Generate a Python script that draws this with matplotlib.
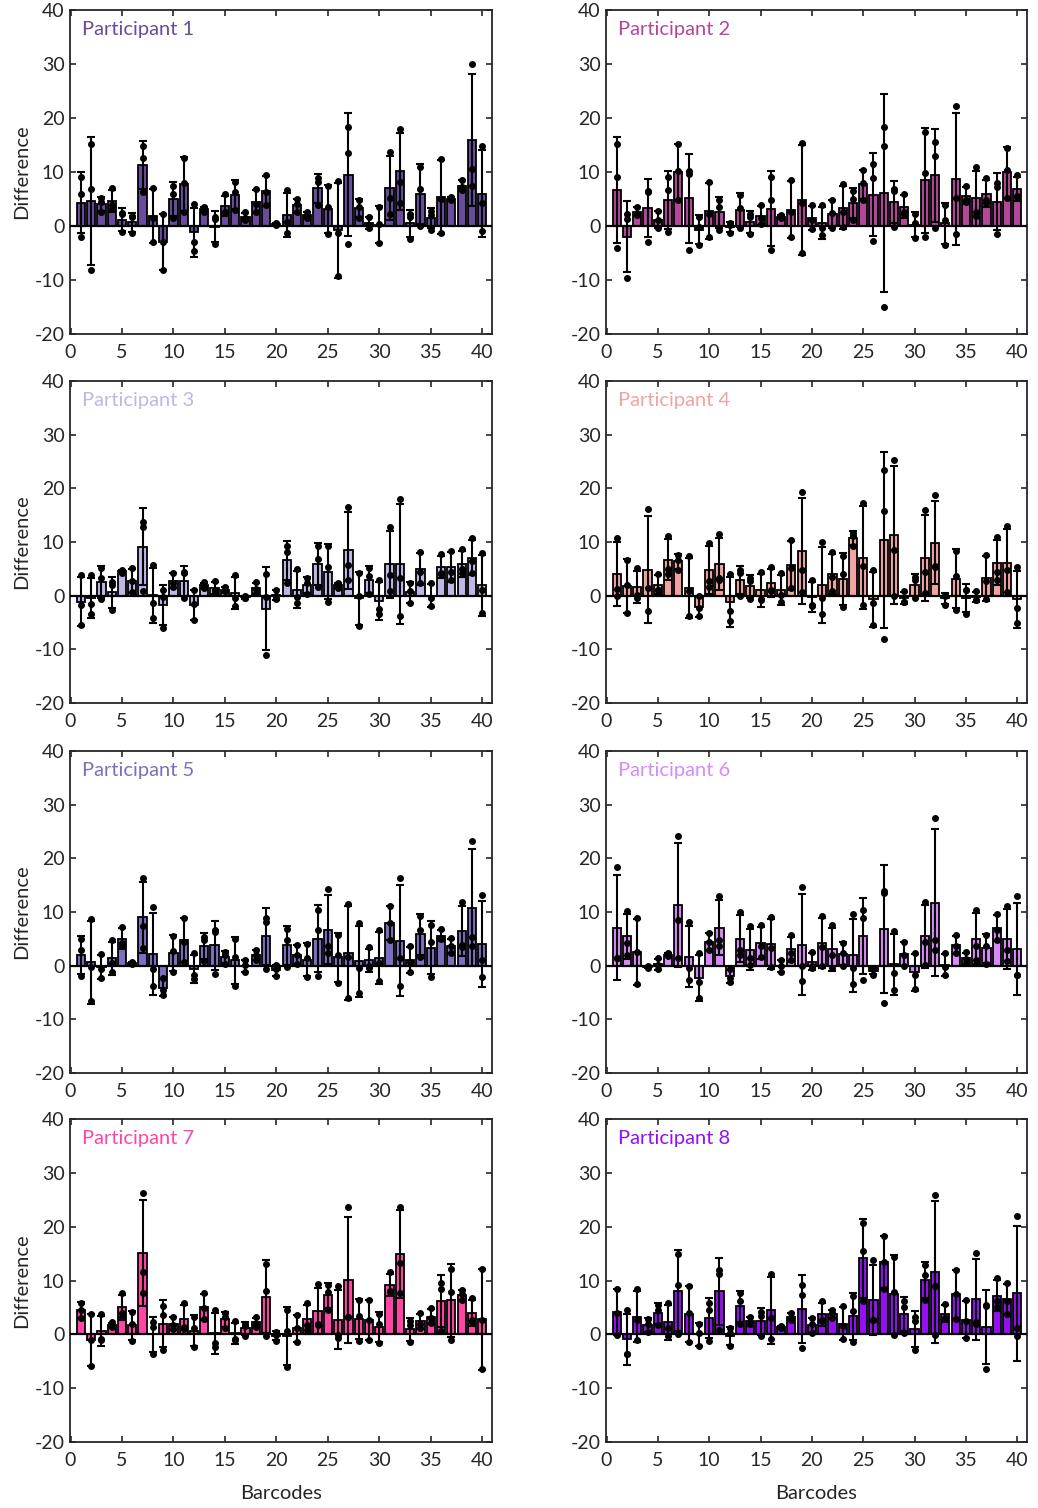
import numpy as np
import matplotlib
matplotlib.use("Agg")
import matplotlib.pyplot as plt

plt.rcParams["font.family"] = ["Lato", "DejaVu Sans"]
plt.rcParams["axes.unicode_minus"] = False

# three replicate differences per barcode (barcodes 1..40)
p1_points = [(9, 6, -2), (15.2, 6.9, -8.1), (5.2, 4.4, 2.6), (7, 3.9, 3.2), (2.5, 2.3, -1.2),
             (1.8, 1.7, -1.3), (14.9, 12.6, 6.3), (7.1, 1.5, -2.9), (2.3, -2.9, -8.1), (7.5, 6, 1.4),
             (12.6, 7.9, 2.6), (4, -2.9, -4.7), (3.5, 3.2, 2.6), (1.7, 1.3, -3.4), (5.9, 2.6, 2.6),
             (8.2, 6.3, 2.9), (2.6, 1.4, 1.1), (6.8, 4.1, 2.6), (9.4, 6.3, 3.9), (0.6, 0.4, 0.2),
             (6.6, 0.7, -1.3), (5, 4, 2.6), (2.6, 1.9, 1.5), (8.8, 8.2, 3.9), (7.4, 3.6, -1.5),
             (8.3, -1.3, -9.3), (18.3, 13.6, -3.4), (4.8, 3.5, 1.5), (1.7, 0.2, -0.4), (3.6, 0.3, -3.2),
             (13.7, 5.1, 2.3), (17.9, 8.2, 4.2), (2.2, 1.7, -2.4), (10.9, 6.9, 0), (2.8, 2.1, -0.7),
             (12.5, 5, -1.3), (5.3, 5, 4.8), (8.6, 7.3, 6.6), (30, 10.5, 7.5), (14.8, 4.2, -1)]
p2_points = [(15.2, 9, -4.1), (2.3, 1.3, -9.6), (3.6, 2.3, 2.0), (6.3, 6.5, -2.9), (2.8, 1.2, -0.4),
             (9, 6.6, -1.2), (15.1, 10.2, 4.8), (9.6, 10.1, -4.4), (1.7, -0.2, -3.6), (8.2, 2.2, -2),
             (4.8, 3.6, -0.7), (0.5, 0.2, -1.3), (5.8, 3.3, -0.4), (2.3, 1.6, -1.5), (3.9, 1.4, 0.4),
             (9.1, 4.9, -4.4), (2, 1.7, 1.4), (8.5, 2.6, -2), (15.3, 4.2, -5), (3.9, 1.2, -0.6),
             (3.9, -0.4, -1.7), (4.8, 2.5, -0.4), (7.7, 2.6, -0.1), (6.5, 5.0, 1.1), (10.3, 8.0, 4.8),
             (11.5, 8.8, -2.8), (18.3, 14.9, -15), (6.9, 6.4, -0.1), (6, 2.6, 2.2), (2.3, 0.6, -2.3),
             (17.4, 9.9, -2), (15.6, 12.9, -0.4), (3.9, 1.2, -3.6), (22.3, 5.2, -1.5), (7.4, 4.9, 4.5),
             (10.9, 2.6, 1.8), (8.9, 4.9, 4.2), (7.9, 7.2, -1.5), (14.4, 10.3, 5.1), (9.4, 5.6, 5.4)]
p3_points = [(3.8, -1.7, -5.4), (3.8, -1.5, -3.5), (5.1, 3.3, -0.7), (2.5, 2.0, -2.7), (4.8, 4.5, 4.3),
             (5.1, 2.7, 0.6), (13.8, 12.8, 0.8), (5.8, -1.4, -4.1), (1.1, -0.2, -6), (4.3, 2.4, 1.7),
             (4.5, 4.3, -0.4), (1, -1.5, -4.6), (2.5, 1.7, 1.5), (2.7, 1.1, 0.5), (1.7, 0.8, 0.8),
             (3.8, -0.4, -2), (0, -0.4, -0.5), (2.5, 1.2, 0.5), (4.1, -0.3, -11), (1.1, 0, -0.7),
             (9.2, 8.2, 2.4), (5, -0.3, -1.4), (3.2, 2.4, 0.4), (9.2, 6.8, 1.7), (9.2, 5.4, -1.1),
             (2.4, 1.9, 1.4), (16.6, 5.8, 3), (4.2, 0, -5.6), (5.1, 3.6, 0.3), (3, -2.5, -3.5),
             (12.8, 3.9, 0.8), (18.1, 3.3, -3.8), (2.4, 0.8, -1.4), (8.2, 4.4, 2.4), (2.4, -0.5, -1.9),
             (7.7, 4.2, 4), (8.4, 4.5, 3), (8.7, 5, 4.2), (10.7, 6.4, 4.2), (8, 1.1, -3.3)]
p4_points = [(10.8, 1.2, 0), (6.7, 1.9, -3.3), (5.1, 0.1, -0.4), (16.1, 1.4, -2.9), (4.1, 1, 1),
             (11.1, 5, 4), (7.6, 6.7, 4.8), (7.3, 0.8, -3.8), (0, -2.3, -3.8), (9.9, 2.8, 1.7),
             (11.5, 3.3, 3), (4.1, -2.9, -4.8), (4.8, 4.2, 0), (3.3, 2.7, -0.7), (4.5, -0.6, -0.9),
             (5.4, 1, 0.8), (4.3, 0.1, -1.1), (10.4, 5.1, 1.4), (19.4, 4.8, 0.6), (3, -1.7, -1.9),
             (10, -0.4, -3.5), (8.1, 3.4, 0.8), (7.3, 4.1, -2.1), (11.7, 11.2, 9.2), (17.3, 5.6, -1.7),
             (4.8, -1.4, -5.4), (23.4, 15.7, -8.1), (25.3, 8.5, 0), (0.8, -1.1, -1.2), (3.5, 2.9, -0.4),
             (16, 4.5, 0.5), (18.8, 5.6, 5.3), (0.2, 0, -1.7), (8.4, 3.6, -2.6), (1, 1, -3.5),
             (0.8, -0.8, -0.9), (7.6, 2.7, -0.7), (11, 4.5, 3), (12.9, 4.8, 0.6), (5.3, -2.3, -5)]
p5_points = [(5, 3, -1.9), (8.7, -0.2, -6.6), (2.2, -0.7, -2.3), (4.8, 0.5, -1.1), (7.2, 4.2, 3.6),
             (0.7, 0.5, 0.3), (16.3, 7.4, 3.3), (10.9, -0.7, -3.7), (-2.3, -4.6, -5.4), (5.6, 2.7, -1.2),
             (8.9, 4.5, 0.7), (2.4, -1.7, -2.5), (5.4, 4.8, 0.8), (6.7, 6.2, -1.5), (2.5, 2, 0.3),
             (5, 1.7, -3.7), (1, 0.2, -1.2), (3, 1.9, 1.1), (8.9, 8.2, -0.7), (0.1, -0.7, -1.9),
             (6.8, 4.8, -0.2), (3.9, 1.9, 0.4), (4.1, 1.4, -2.1), (10.3, 6.6, -1.9), (14.2, 3.6, 2.4),
             (5.8, 2, -3.2), (11.5, 1.7, -6), (7.9, -0.4, -5.1), (3.5, -0.1, -0.4), (6.6, 0.5, -2.9),
             (11.2, 8, 4.8), (16.3, 1.4, -3.7), (3.6, 0.6, -1.2), (9.2, 6.7, 1.7), (7.6, 4.5, -2.1),
             (6.8, 5.1, 4.9), (5.1, 3.6, 2.4), (11.8, 3.9, 3.5), (23.3, 5.4, 3.6), (13.2, 1, -2.1)]
p6_points = [(18.4, 1.5, 1.4), (10.2, 4.2, 2), (8.8, 2.5, -3.5), (0, -0.2, -0.4), (1.4, 0.1, -0.6),
             (2.3, 2, 1.8), (24.1, 8.5, 1.4), (8.2, -0.4, -2.7), (2.3, -3.1, -6.1), (6, 4.5, 2.9),
             (12.9, 4.8, 3.6), (-0.6, -2.3, -3.1), (10, 3, 2), (7.4, 1.4, 0.2), (7.5, 3.6, 1.7),
             (9.1, 3.3, -0.2), (1.1, 0, -1.2), (5.7, 2.3, 1.1), (14.6, 0, -2.9), (2.5, 0, -0.4),
             (9.3, 3.5, 0), (7.5, 2, -0.4), (4.3, 2.3, 0), (9.6, -0.4, -3.5), (10.4, 8.8, -2.6),
             (-0.6, -0.7, -1.7), (13.9, 13.5, -6.9), (6.5, -1.3, -4.5), (4.5, 2, 0), (2.3, -1.7, -4.4),
             (11.8, 4.5, 0.2), (27.5, 4.8, 2.9), (2.3, -0.3, -1.7), (5.7, 3.7, 2.3), (2.5, 1.2, 0.5),
             (10.3, 3.6, 1.1), (5.8, 3.6, 0.4), (9.7, 6.6, 4.8), (11.2, 2.9, 0.8), (12.9, -1.8, -1.8)]
p7_points = [(5.9, 4.5, 3), (3.8, -1, -5.9), (3.8, -0.9, -1.1), (2.2, 1.5, 1.4), (7.7, 4, 3.3),
             (4.2, 2, -1.2), (26.2, 11.6, 7.6), (2.3, 1.4, -3.7), (5.3, 3.6, -3), (3.3, 1.7, 1),
             (5.9, 1.4, 1), (3.3, 1.1, -2.3), (7.7, 4.8, 2.8), (4.6, -1.7, -2.3), (3.9, 3.3, 1.2),
             (2.4, -0.8, -1.1), (2, 1.6, -0.3), (3.2, 2, 1.4), (13.1, 8.1, -0.3), (0.5, -0.1, -1.2),
             (4.5, 0.7, -6.1), (3.6, 1.1, -1.4), (5.9, 1.7, 0.8), (9.3, 2, 1.7), (9.2, 7.9, 4.6),
             (9, -0.2, -0.7), (23.7, 3.3, 3.3), (6.3, 3.4, -1.2), (6.3, 2.7, -1.1), (3.8, 2, -1.7),
             (11.6, 8.1, 7.9), (23.7, 13.3, 7.6), (2.5, 1.7, -1.5), (4, 2, 1.2), (4.8, 3, 2.1),
             (9.5, 8.4, 0.7), (12.1, 7.9, -1.1), (8.2, 7.4, 6.3), (6.7, 2.7, 2.3), (12.1, 2.7, -6.5)]
p8_points = [(8.4, 4, -0.1), (4.6, -3.6, -3.7), (8.4, 2.6, -1.1), (2.8, 2, 0.4), (5.4, 4.6, 1.7),
             (5.9, 1.1, -0.4), (15, 9.2, 0.1), (8.9, 4, -1.5), (2, 0.2, -2.2), (5.9, 4.5, -1.2),
             (12, 11.2, 0.8), (1.1, 0.2, -2.2), (7.6, 6.1, 2), (3.3, 2, 1.9), (4.2, 3.4, -0.4),
             (11.3, 3, -0.9), (1.6, 1.4, 1.2), (4, 3, 2.7), (9.2, 7.3, -2.6), (3, 1.9, 0.2),
             (6.1, 2.6, 2.4), (4.5, 3.9, 3), (5.3, 1.6, -0.9), (7.1, 4.4, -1.4), (20.7, 15.5, 6.1),
             (13.9, 2.7, 2.6), (18.3, 13.5, 8.5), (14.4, 7.9, -0.1), (6.1, 5.1, 0.2), (3.3, 2.5, -2.9),
             (12.9, 11.1, 6.4), (25.9, 9, -0.1), (5.6, 3, 2.8), (12, 7.4, 2.8), (6.3, 2.4, -0.6),
             (15.2, 2.3, 2), (5.4, 5.3, -6.5), (10.4, 6.1, 5.1), (9.5, 6.2, 3.8), (22, 1.2, -0.4)]

participants = ["Participant 1", "Participant 2", "Participant 3", "Participant 4",
                "Participant 5", "Participant 6", "Participant 7", "Participant 8"]
all_points = [p1_points, p2_points, p3_points, p4_points,
              p5_points, p6_points, p7_points, p8_points]
colors = ["#6A4C9C", "#B5479A", "#BDB8E6", "#F0A3A0",
          "#7A70BF", "#D88AF7", "#FF45A5", "#9410F0"]

W, H = 1038, 1508
fig = plt.figure(figsize=(W / 100, H / 100), dpi=100)

# panel boxes in pixels: (left, top, right, bottom)
cols = [(70, 492), (606, 1027)]
rows = [(10, 334), (381, 703), (751, 1073), (1119, 1442)]

axis_col = "#262626"
barcodes = np.arange(1, 41)

for i, (name, pts, c) in enumerate(zip(participants, all_points, colors)):
    r, k = divmod(i, 2)
    l, rt = cols[k]
    t, b = rows[r]
    ax = fig.add_axes([l / W, 1 - b / H, (rt - l) / W, (b - t) / H])

    data = np.array(pts)
    mean = data.mean(axis=1)
    sd = data.std(axis=1, ddof=1)

    ax.bar(barcodes, mean, width=0.8, color=c, edgecolor="k", linewidth=1.3, zorder=2)
    ax.axhline(0, color="k", lw=1.6, zorder=3)
    ax.errorbar(barcodes, mean, yerr=sd, fmt="none", ecolor="k",
                elinewidth=1.5, capsize=3, capthick=1.5, zorder=4)
    for j in range(data.shape[1]):
        ax.plot(barcodes, data[:, j], "o", color="k", ms=4, zorder=5)

    ax.set_xlim(-0.05, 40.95)
    ax.set_ylim(-20, 40)
    ax.set_xticks(range(0, 41, 5))
    ax.set_yticks(range(-20, 41, 10))
    ax.tick_params(direction="in", top=True, right=True, length=4, width=1.2,
                   labelsize=14, colors=axis_col)
    ax.tick_params(axis="x", pad=7)
    ax.tick_params(axis="y", pad=4)
    for s in ax.spines.values():
        s.set_color(axis_col)
        s.set_linewidth(1.3)

    ax.text(0.028, 0.94, name, transform=ax.transAxes, color=c,
            fontsize=14.5, va="center", ha="left")

    if k == 0:
        ax.set_ylabel("Difference", fontsize=14.5, color=axis_col, labelpad=3)
    if r == 3:
        ax.set_xlabel("Barcodes", fontsize=14.5, color=axis_col, labelpad=12)

fig.savefig("out.png", dpi=100)
